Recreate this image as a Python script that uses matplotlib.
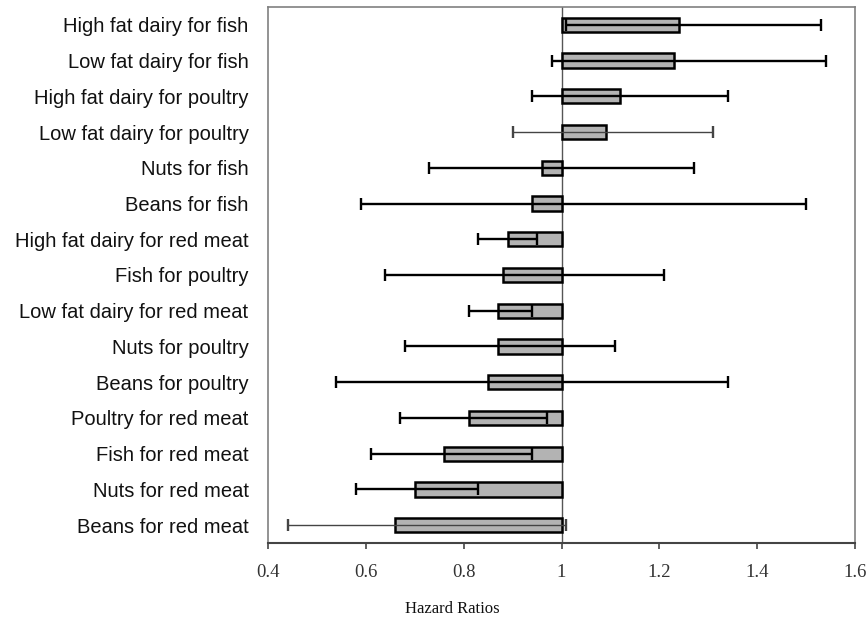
import matplotlib
matplotlib.use("Agg")
import matplotlib.pyplot as plt
import numpy as np

categories = [
    "High fat dairy for fish",
    "Low fat dairy for fish",
    "High fat dairy for poultry",
    "Low fat dairy for poultry",
    "Nuts for fish",
    "Beans for fish",
    "High fat dairy for red meat",
    "Fish for poultry",
    "Low fat dairy for red meat",
    "Nuts for poultry",
    "Beans for poultry",
    "Poultry for red meat",
    "Fish for red meat",
    "Nuts for red meat",
    "Beans for red meat",
]
hazard_ratio = [1.24, 1.23, 1.12, 1.09, 0.96, 0.94, 0.89, 0.88, 0.87, 0.87, 0.85, 0.81, 0.76, 0.70, 0.66]
ci_low = [1.01, 0.98, 0.94, 0.90, 0.73, 0.59, 0.83, 0.64, 0.81, 0.68, 0.54, 0.67, 0.61, 0.58, 0.44]
ci_high = [1.53, 1.54, 1.34, 1.31, 1.27, 1.50, 0.95, 1.21, 0.94, 1.11, 1.34, 0.97, 0.94, 0.83, 1.01]
thin_rows = ["Low fat dairy for poultry", "Beans for red meat"]
reference = 1.0
xticks = [0.4, 0.6, 0.8, 1.0, 1.2, 1.4, 1.6]
xtick_labels = ["0.4", "0.6", "0.8", "1", "1.2", "1.4", "1.6"]

fig = plt.figure(figsize=(8.66, 6.2), dpi=100)
ax = fig.add_axes([268/866, 1 - 543/620, (855-268)/866, (543-7)/620])

y = np.arange(len(categories))
hr = np.array(hazard_ratio)
ax.barh(y, hr - reference, left=reference, height=0.4, color="#b3b3b3",
        edgecolor="black", linewidth=1.8, zorder=2)

for i, cat in enumerate(categories):
    thin = cat in thin_rows
    ax.errorbar([hr[i]], [y[i]],
                xerr=[[hr[i] - ci_low[i]], [ci_high[i] - hr[i]]],
                fmt="none", ecolor="#444444" if thin else "black",
                elinewidth=1.0 if thin else 1.7, capsize=4,
                capthick=1.7, zorder=3)

ax.axvline(reference, color="#555555", linewidth=1.0, zorder=1)

ax.set_xlim(0.4, 1.6)
ax.set_ylim(len(categories) - 0.5, -0.5)
ax.set_yticks(y)
ax.set_yticklabels(categories, fontfamily="Liberation Sans", fontsize=14.5, color="#111111")
ax.tick_params(axis="y", length=0, pad=14)
ax.set_xticks(xticks)
ax.set_xticklabels(xtick_labels, fontfamily="Liberation Serif", fontsize=13.5, color="#333333")
ax.tick_params(axis="x", direction="out", length=4, width=1.2, color="#444444", pad=11)

for side in ["left", "top", "right"]:
    ax.spines[side].set_color("#808080")
    ax.spines[side].set_linewidth(1.2)
ax.spines["bottom"].set_color("#444444")
ax.spines["bottom"].set_linewidth(1.5)

fig.text(452/866, 1 - 609/620, "Hazard Ratios", fontfamily="Liberation Serif",
         fontsize=12, ha="center", va="center", color="#111111")

fig.savefig("out.png", dpi=100)
